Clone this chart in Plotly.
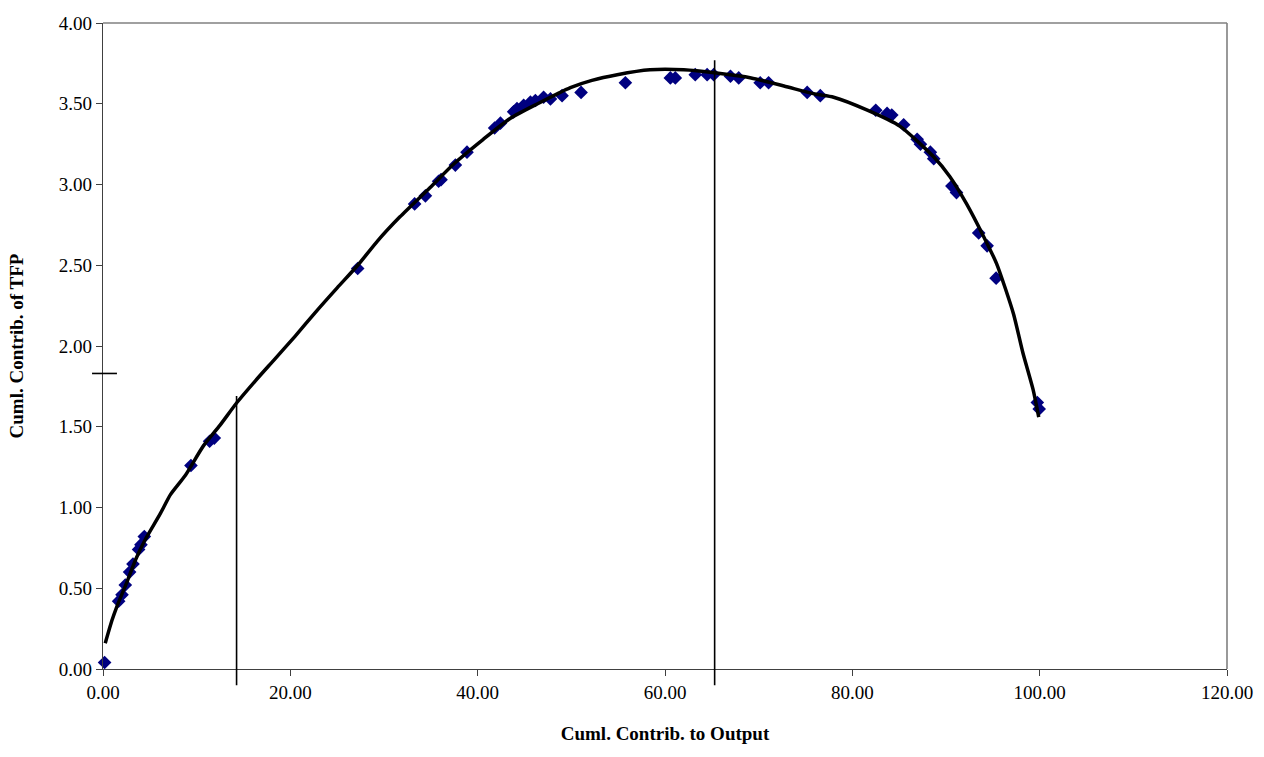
import plotly.graph_objects as go

# Observed data points (Cuml. Contrib. to Output, Cuml. Contrib. of TFP)
pts_x = [0.17, 1.67, 2.03, 2.38, 2.84, 3.20, 3.80, 4.05, 4.41, 9.39, 11.38, 11.88,
         27.19, 33.27, 34.42, 35.83, 36.09, 37.62, 38.86, 41.81, 42.43, 43.84, 44.20,
         44.91, 45.63, 46.16, 47.04, 47.77, 49.01, 51.04, 55.77, 60.57, 61.10, 63.23,
         64.50, 65.20, 66.99, 67.87, 70.16, 71.06, 75.18, 76.58, 82.50, 83.71, 84.21,
         85.48, 86.92, 87.27, 88.33, 88.69, 90.63, 91.12, 93.49, 94.39, 95.35, 99.75, 99.95]
pts_y = [0.04, 0.42, 0.46, 0.52, 0.60, 0.65, 0.74, 0.77, 0.82, 1.26, 1.41, 1.43,
         2.48, 2.88, 2.93, 3.02, 3.03, 3.12, 3.20, 3.35, 3.38, 3.45, 3.47,
         3.49, 3.51, 3.52, 3.54, 3.53, 3.55, 3.57, 3.63, 3.66, 3.66, 3.68,
         3.68, 3.68, 3.67, 3.66, 3.63, 3.63, 3.57, 3.55, 3.46, 3.44, 3.43,
         3.37, 3.28, 3.25, 3.20, 3.16, 2.99, 2.95, 2.70, 2.62, 2.42, 1.65, 1.61]

# Fitted trend curve
fit_x = [0.24, 0.95, 1.5, 2.5, 3.5, 4.5, 6.1, 7.2, 8.8, 10.7, 12.5, 14.3, 16.2, 18.2,
         20.5, 22.7, 25.0, 27.2, 29.3, 31.7, 34.9, 37.5, 40.6, 43.5, 46.4, 49.9, 52.2,
         54.9, 58.4, 62.0, 65.5, 69.2, 72.7, 76.0, 78.0, 81.6, 85.1, 88.7, 90.4, 92.2,
         94.0, 95.4, 97.2, 98.2, 99.3, 99.9]
fit_y = [0.16, 0.30, 0.39, 0.53, 0.68, 0.80, 0.96, 1.08, 1.20, 1.38, 1.51, 1.65, 1.78, 1.91,
         2.06, 2.21, 2.36, 2.50, 2.65, 2.80, 2.98, 3.13, 3.28, 3.41, 3.50, 3.60, 3.645,
         3.68, 3.71, 3.71, 3.69, 3.66, 3.61, 3.56, 3.54, 3.46, 3.36, 3.17, 3.05, 2.88,
         2.68, 2.51, 2.20, 1.96, 1.73, 1.56]

# Reference marker lines (data units)
vline_x = [14.26, 65.3]
vline_y0 = [-0.1, -0.1]
vline_y1 = [1.69, 3.77]
hline_y = 1.83
hline_x0, hline_x1 = -1.17, 1.49

x_range = [0, 120]
y_range = [0, 4]
x_ticks = [0, 20, 40, 60, 80, 100, 120]
y_ticks = [0, 0.5, 1.0, 1.5, 2.0, 2.5, 3.0, 3.5, 4.0]


def to_frac(v, rng):
    return (v - rng[0]) / (rng[1] - rng[0])


fig = go.Figure()
fig.add_trace(go.Scatter(x=pts_x, y=pts_y, mode="markers",
                         marker=dict(symbol="diamond", size=10.5, color="#000080",
                                     line=dict(width=0)),
                         cliponaxis=False, showlegend=False))
fig.add_trace(go.Scatter(x=fit_x, y=fit_y, mode="lines",
                         line=dict(color="black", width=3.5, shape="spline", smoothing=0.6),
                         showlegend=False))

# vertical lines: x in data, y in axis-domain fraction (so they may extend below the axis)
for xv, y0, y1 in zip(vline_x, vline_y0, vline_y1):
    fig.add_shape(type="line", xref="x", yref="y domain", x0=xv, x1=xv,
                  y0=to_frac(y0, y_range), y1=to_frac(y1, y_range),
                  line=dict(color="black", width=1.6))
# horizontal line: y in data, x in axis-domain fraction (extends left of the axis)
fig.add_shape(type="line", xref="x domain", yref="y",
              x0=to_frac(hline_x0, x_range), x1=to_frac(hline_x1, x_range),
              y0=hline_y, y1=hline_y, line=dict(color="black", width=1.6))

# top / right frame
fig.add_shape(type="line", xref="paper", yref="paper", x0=0, x1=1, y0=1, y1=1,
              line=dict(color="#808080", width=1.6))
fig.add_shape(type="line", xref="paper", yref="paper", x0=1, x1=1, y0=0, y1=1,
              line=dict(color="#808080", width=1.6))

font_family = "Liberation Serif, Times New Roman, serif"
fig.update_layout(
    width=1264, height=757,
    margin=dict(l=103, r=37, t=23, b=88),
    paper_bgcolor="white", plot_bgcolor="white",
    font=dict(family=font_family, color="black", size=19),
    showlegend=False,
)
fig.update_xaxes(range=x_range, tickvals=x_ticks, tickformat=".2f",
                 showgrid=False, zeroline=False, showline=True, linecolor="#404040",
                 linewidth=1.4, ticks="outside", ticklen=6, tickcolor="#404040",
                 tickfont=dict(size=19, family=font_family),
                 title=dict(text="<b>Cuml. Contrib. to Output</b>", standoff=24,
                            font=dict(size=19, family=font_family)))
fig.update_yaxes(range=y_range, tickvals=y_ticks, tickformat=".2f",
                 showgrid=False, zeroline=False, showline=True, linecolor="#404040",
                 linewidth=1.4, ticks="outside", ticklen=6, tickcolor="#404040",
                 tickfont=dict(size=19, family=font_family),
                 title=dict(text="<b>Cuml. Contrib. of TFP</b>", standoff=30,
                            font=dict(size=19, family=font_family)))

fig.write_html("out.html", config={"displayModeBar": False},
               post_script="document.body.style.margin='0';")
